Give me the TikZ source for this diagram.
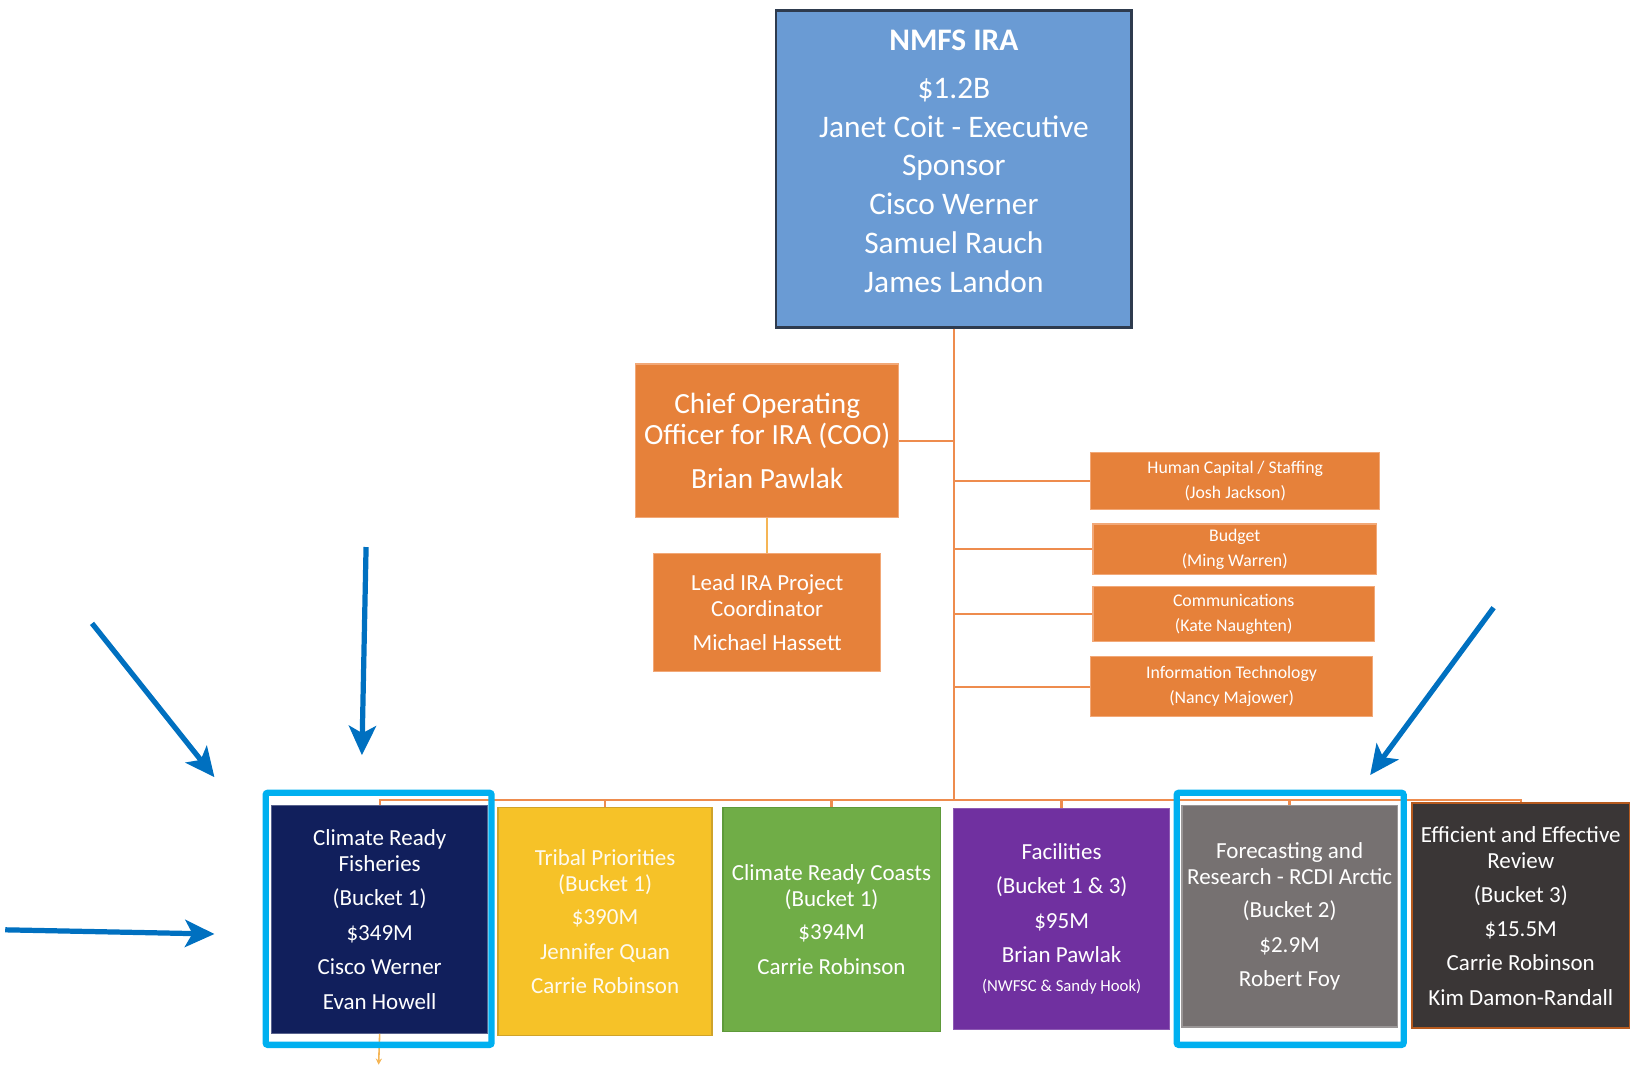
\documentclass[tikz,border=0pt]{standalone}
\usepackage{fontspec}
\setmainfont{Carlito}
\usetikzlibrary{arrows.meta}
\definecolor{topblue}{HTML}{6A9BD4}
\definecolor{topedge}{HTML}{2E3B4E}
\definecolor{orbox}{HTML}{E6813A}
\definecolor{oredge}{HTML}{F2A877}
\definecolor{orline}{HTML}{EE8C4E}
\definecolor{leadline}{HTML}{F5B555}
\definecolor{navy}{HTML}{111F5C}
\definecolor{gold}{HTML}{F6C228}
\definecolor{goldedge}{HTML}{CFA32A}
\definecolor{grn}{HTML}{70AD47}
\definecolor{grnedge}{HTML}{5E9A3A}
\definecolor{purp}{HTML}{7030A0}
\definecolor{gry}{HTML}{767171}
\definecolor{gryedge}{HTML}{9A9696}
\definecolor{dark}{HTML}{3A3636}
\definecolor{darkedge}{HTML}{B65A1E}
\definecolor{cyanfr}{HTML}{00B0F0}
\definecolor{bluearr}{HTML}{0070C0}
\begin{document}
\begin{tikzpicture}[x=1pt,y=-1pt,
  box/.style={rectangle, inner sep=0pt, align=center, text=white},
  orangebox/.style={box, fill=orbox, draw=oredge, line width=1pt},
  bigtxt/.style={font=\fontsize{22}{25}\selectfont},
  smalltxt/.style={font=\fontsize{17}{24}\selectfont},
  conn/.style={draw=orline, line width=2.2pt},
  frame/.style={draw=cyanfr, line width=6pt, rounded corners=2pt, inner sep=0pt},
  bigarrow/.style={draw=bluearr, line width=5pt, -{Stealth[length=28pt,width=26pt,inset=7pt]}},
]
\useasboundingbox (0,0) rectangle (1568,1019);

% top box
\node[box, fill=topblue, draw=topedge, line width=2.5pt, minimum width=340, minimum height=303] (top) at (912,161.5) {};
\node[box, font=\fontsize{30}{37}\selectfont] (topt) at (912,154) {\textbf{NMFS IRA}\\[9pt] \$1.2B\\ Janet Coit - Executive\\ Sponsor\\ Cisco Werner\\ Samuel Rauch\\ James Landon};

% COO and lead
\node[orangebox, minimum width=251, minimum height=147, font=\fontsize{28}{30}\selectfont] (coo) at (733.5,421.5) {Chief Operating\\ Officer for IRA (COO)\\[12pt] Brian Pawlak};
\node[orangebox, bigtxt, minimum width=217, minimum height=113] (lead) at (733.5,585.5) {Lead IRA Project\\ Coordinator\\[7pt] Michael Hassett};

% staff boxes
\node[orangebox, smalltxt, minimum width=276, minimum height=54] (hc) at (1181,460) {Human Capital / Staffing\\ (Josh Jackson)};
\node[orangebox, smalltxt, minimum width=271, minimum height=48] (bud) at (1180.5,525) {Budget\\ (Ming Warren)};
\node[orangebox, smalltxt, minimum width=269, minimum height=52] (comm) at (1179.5,587) {Communications\\ (Kate Naughten)};
\node[orangebox, smalltxt, minimum width=269, minimum height=57] (it) at (1177.5,656.5) {Information Technology\\ (Nancy Majower)};

% bottom boxes
\node[box, bigtxt, fill=navy, draw=navy!70!white, line width=1pt, minimum width=206, minimum height=218] (fish) at (363,879) {Climate Ready\\ Fisheries\\[8pt] (Bucket 1)\\[8pt] \$349M\\[8pt] Cisco Werner\\[8pt] Evan Howell};
\node[box, bigtxt, fill=gold, draw=goldedge, line width=1.5pt, minimum width=205, minimum height=218, text=white!92!gold] (trib) at (578.5,881) {Tribal Priorities\\ (Bucket 1)\\[7pt] \$390M\\[8pt] Jennifer Quan\\[8pt] Carrie Robinson};
\node[box, bigtxt, fill=grn, draw=grnedge, line width=1.5pt, minimum width=208, minimum height=214] (coast) at (795,879) {Climate Ready Coasts\\ (Bucket 1)\\[7pt] \$394M\\[8pt] Carrie Robinson};
\node[box, bigtxt, fill=purp, draw=purp!80!white, line width=1pt, minimum width=206, minimum height=211] (fac) at (1015,878.5) {Facilities\\[8pt] (Bucket 1 \& 3)\\[8pt] \$95M\\[8pt] Brian Pawlak\\[3pt] {\fontsize{16}{20}\selectfont (NWFSC \& Sandy Hook)}};
\node[box, bigtxt, fill=gry, draw=gryedge, line width=1.5pt, minimum width=206, minimum height=212] (fore) at (1233,876) {Forecasting and\\ Research - RCDI Arctic\\[7pt] (Bucket 2)\\[8pt] \$2.9M\\[8pt] Robert Foy};
\node[box, bigtxt, fill=dark, draw=darkedge, line width=1.5pt, minimum width=208, minimum height=215] (eff) at (1454,875.5) {Efficient and Effective\\ Review\\[8pt] (Bucket 3)\\[7pt] \$15.5M\\[8pt] Carrie Robinson\\[8pt] Kim Damon-Randall};

% connectors
\coordinate (bus) at (912,765);
\draw[conn] (top.south) -- (bus);
\draw[conn] (coo.east) -- (coo.east -| top.south);
\draw[draw=leadline, line width=2.2pt] (coo.south) -- (lead.north);
\foreach \n in {hc,bud,comm,it} { \draw[conn] (\n.west) -- (\n.west -| top.south); }
\foreach \n in {fish,trib,coast,fac,fore,eff} { \draw[conn] (\n.north) |- (bus); }
\coordinate (fishend) at (362,1018);
\draw[draw=leadline, line width=1.5pt, -{Stealth[length=6pt,width=6pt]}] (fish.south) -- (fishend);

% highlight frames
\node[frame, minimum width=216, minimum height=241] (fr1) at (362,878.5) {};
\node[frame, minimum width=217, minimum height=241] (fr2) at (1233.5,878.5) {};

% blue arrows
\coordinate (a1s) at (88,596);   \coordinate (a1e) at (205,743);
\coordinate (a2s) at (350,523);  \coordinate (a2e) at (346,722);
\coordinate (a3s) at (5,889);    \coordinate (a3e) at (205,893);
\coordinate (a4s) at (1428,581); \coordinate (a4e) at (1310,741);
\draw[bigarrow] (a1s) -- (a1e);
\draw[bigarrow] (a2s) -- (a2e);
\draw[bigarrow] (a3s) -- (a3e);
\draw[bigarrow] (a4s) -- (a4e);
\end{tikzpicture}
\end{document}
